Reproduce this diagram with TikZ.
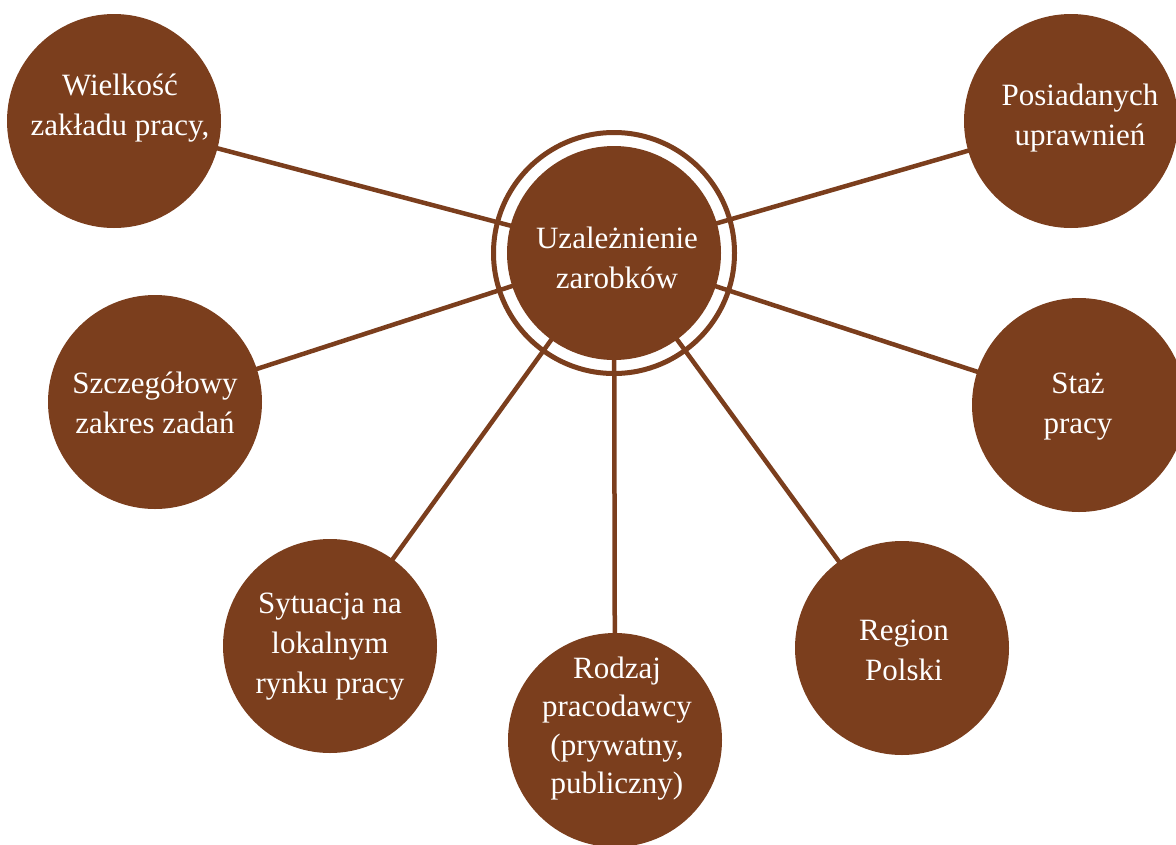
\documentclass[tikz,border=0pt]{standalone}
\usepackage{fontspec}
\setmainfont{Liberation Serif}
\usetikzlibrary{backgrounds}
\definecolor{brn}{RGB}{123,62,29}
\newcommand\mylines[1]{\begin{tabular}[t]{@{}c@{}}#1\end{tabular}}
\begin{document}
\begin{tikzpicture}[x=1pt,y=-1pt,
  bubble/.style={circle,fill=brn,draw=none,minimum size=214pt,inner sep=0pt,outer sep=0pt},
  ringstyle/.style={circle,draw=brn,line width=5pt,minimum size=241pt,inner sep=0pt},
  lbl/.style={text=white,font=\fontsize{31}{40}\selectfont,inner sep=0pt,anchor=base},
  link/.style={draw=brn,line width=4.5pt}]
\useasboundingbox (0,0) rectangle (1176,844);
% circles
\node[bubble] (c) at (614,253) {};
\node[ringstyle] (ring) at (614,253) {};
\node[bubble] (w) at (114,121) {};
\node[bubble] (p) at (1071,121) {};
\node[bubble] (s) at (155,402) {};
\node[bubble] (st) at (1079,405) {};
\node[bubble] (sy) at (330,646) {};
\node[bubble] (r) at (615,740) {};
\node[bubble] (re) at (902,648) {};
% labels
\node[lbl] (tc) at (617,248) {\mylines{Uzależnienie\\zarobków}};
\node[lbl] (tw) at (120,95) {\mylines{Wielkość\\zakładu pracy,}};
\node[lbl] (tp) at (1080,105) {\mylines{Posiadanych\\uprawnień}};
\node[lbl] (ts) at (155,393) {\mylines{Szczegółowy\\zakres zadań}};
\node[lbl] (tst) at (1078,393) {\mylines{Staż\\pracy}};
\node[lbl] (tsy) at (330,613) {\mylines{Sytuacja na\\lokalnym\\rynku pracy}};
\node[lbl,font=\fontsize{31}{38.5}\selectfont] (tr) at (617,678) {\mylines{Rodzaj\\pracodawcy\\(prywatny,\\publiczny)}};
\node[lbl] (tre) at (904,640) {\mylines{Region\\Polski}};
% connectors behind
\begin{scope}[on background layer]
  \fill[white] (0,0) rectangle (1176,844);
  \draw[link] (c.center) -- (w.center);
  \draw[link] (c.center) -- (p.center);
  \draw[link] (c.center) -- (s.center);
  \draw[link] (c.center) -- (st.center);
  \draw[link] (c.center) -- (sy.center);
  \draw[link] (c.center) -- (r.center);
  \draw[link] (c.center) -- (re.center);
\end{scope}
\end{tikzpicture}
\end{document}
